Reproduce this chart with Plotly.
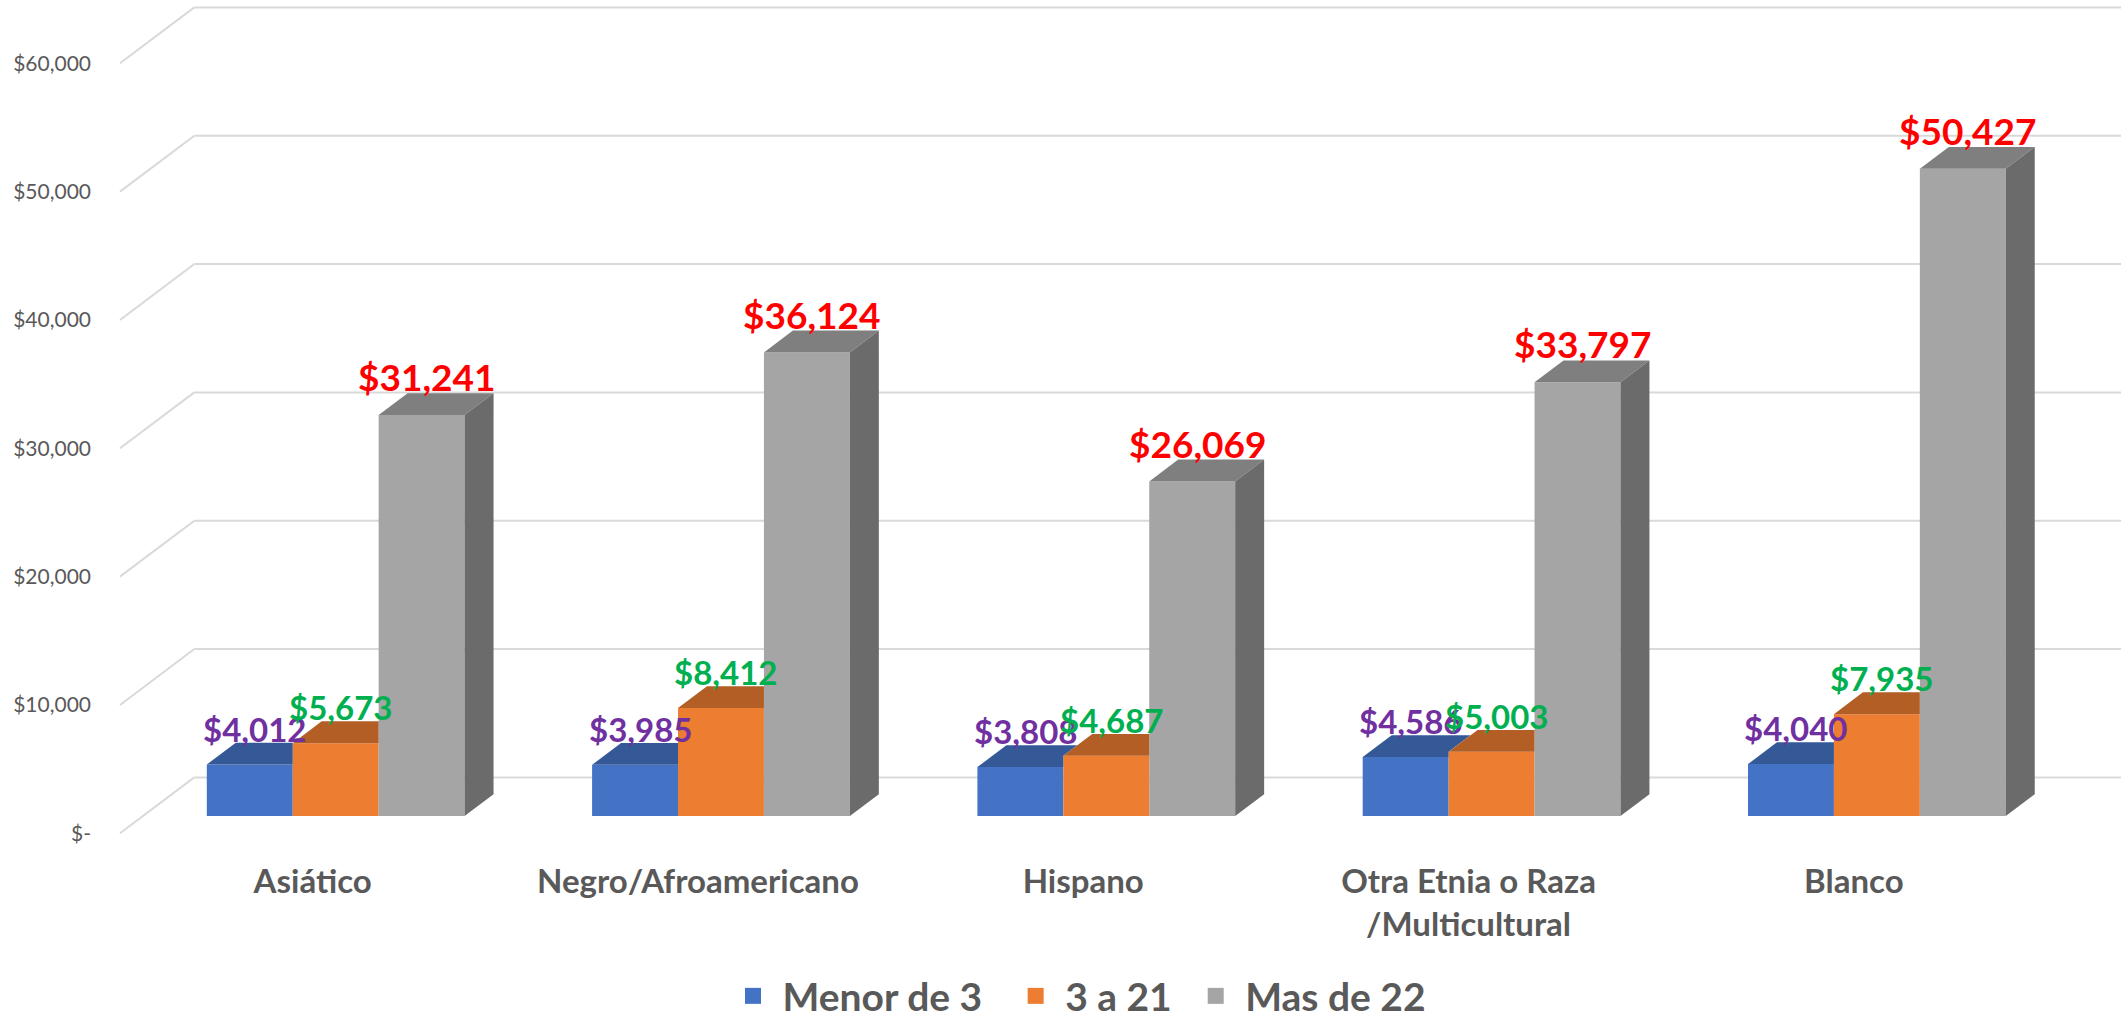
import plotly.graph_objects as go

# ---------------- data ----------------
categories = ["Asiático", "Negro/Afroamericano", "Hispano",
              "Otra Etnia o Raza /Multicultural", "Blanco"]
series_names = ["Menor de 3", "3 a 21", "Mas de 22"]
menor_de_3 = [4012, 3985, 3808, 4586, 4040]
de_3_a_21 = [5673, 8412, 4687, 5003, 7935]
mas_de_22 = [31241, 36124, 26069, 33797, 50427]
tick_values = [0, 10000, 20000, 30000, 40000, 50000, 60000]
tick_labels = ["$-", "$10,000", "$20,000", "$30,000", "$40,000", "$50,000", "$60,000"]

series_values = [menor_de_3, de_3_a_21, mas_de_22]

# ---------------- styling / geometry ----------------
FRONT_COL = ["#4472C4", "#ED7D31", "#A5A5A5"]
TOP_COL = ["#345996", "#B25E25", "#7F7F7F"]
SIDE_COL = "#6B6B6B"
LABEL_COL = ["#7030A0", "#00B050", "#FF0000"]
LABEL_SIZE = [33, 33, 37]
LEGEND_PAD = [3, 2, 0]      # trailing no-break spaces after each legend text
GRID_COL = "#D9D9D9"
TEXT_COL = "#595959"
FONT = "Lato"

W, H = 2121, 1020
ML, MB = 100, 170
PX_PER_CAT = 385.3          # pixels per category band
PX_PER_USD = 770 / 60000.0  # pixels per dollar (vertical)
ORIGIN_X = 120.0            # px of category band start (front plane)
ORIGIN_Y = 833.3            # px of value 0 on front plane

WALL_DX = 74.3 / PX_PER_CAT        # full floor depth, category units
WALL_DY = 55.9 / PX_PER_USD        # full floor depth, dollar units
FRONT_F = 0.31                     # bar front face depth fraction
DEPTH_F = 0.39                     # bar depth fraction
GROUP_W = 0.669
BAR_W = GROUP_W / 3

sx = FRONT_F * WALL_DX
sy = FRONT_F * WALL_DY
ddx = DEPTH_F * WALL_DX
ddy = DEPTH_F * WALL_DY

plot_h = H - MB
x_range = [(ML - ORIGIN_X) / PX_PER_CAT, (W - ORIGIN_X) / PX_PER_CAT]
y_range = [-(plot_h - ORIGIN_Y) / PX_PER_USD, ORIGIN_Y / PX_PER_USD]

fig = go.Figure()

# gridlines (left wall diagonal + back wall horizontal), drawn below traces
for v in tick_values:
    fig.add_shape(type="line", xref="x", yref="y", layer="below",
                  x0=0, y0=v, x1=WALL_DX, y1=v + WALL_DY,
                  line=dict(color=GRID_COL, width=2))
    fig.add_shape(type="line", xref="x", yref="y", layer="below",
                  x0=WALL_DX, y0=v + WALL_DY, x1=x_range[1] + 1, y1=v + WALL_DY,
                  line=dict(color=GRID_COL, width=2))

n = len(categories)
centers = [i + 0.5 for i in range(n)]

# front faces: real bar traces
for k, (name, vals) in enumerate(zip(series_names, series_values)):
    fig.add_trace(go.Bar(
        x=[c + sx for c in centers], y=vals, base=[sy] * n,
        width=BAR_W, offset=-GROUP_W / 2 + k * BAR_W,
        marker=dict(color=FRONT_COL[k], line=dict(width=0)),
        name=name, showlegend=False,
        hovertemplate="%{y:$,.0f}<extra>" + name + "</extra>",
    ))

# top / side faces (3D effect) computed from the data
for i in range(n):
    c = centers[i] + sx
    for k in range(3):
        v = series_values[k][i]
        xl = c - GROUP_W / 2 + k * BAR_W
        xr = xl + BAR_W
        yt = sy + v
        if k < 2:
            vn = sy + series_values[k + 1][i]  # next (right) bar front-top
            if vn >= yt + ddy:
                px = [xl, xr, xr, xl + ddx, xl]
                py = [yt, yt, yt + ddy, yt + ddy, yt]
            else:
                xc = xr + ddx * (yt + ddy - vn) / ddy
                px = [xl, xr, xr, xc, xl + ddx, xl]
                py = [yt, yt, vn, yt + ddy, yt + ddy, yt]
        else:
            px = [xl, xr, xr + ddx, xl + ddx, xl]
            py = [yt, yt, yt + ddy, yt + ddy, yt]
        fig.add_trace(go.Scatter(x=px, y=py, mode="lines", fill="toself",
                                 fillcolor=TOP_COL[k], line=dict(width=0),
                                 hoverinfo="skip", showlegend=False))
        if k == 2:
            fig.add_trace(go.Scatter(
                x=[xr, xr, xr + ddx, xr + ddx, xr],
                y=[sy, yt, yt + ddy, sy + ddy, sy],
                mode="lines", fill="toself", fillcolor=SIDE_COL,
                line=dict(width=0), hoverinfo="skip", showlegend=False))

# legend entries (no-break spaces adjust the spacing around the text)
for k, name in enumerate(series_names):
    fig.add_trace(go.Scatter(x=[None], y=[None], mode="markers",
                             name="\u00a0" + name + "\u00a0" * LEGEND_PAD[k],
                             marker=dict(symbol="square", size=23, color=FRONT_COL[k])))

# data labels
for k in range(3):
    for i in range(n):
        v = series_values[k][i]
        c = centers[i] + sx - GROUP_W / 2 + (k + 0.5) * BAR_W
        fig.add_annotation(x=c + 0.013, y=sy + v + ddy, xref="x", yref="y",
                           text=f"${v:,}", showarrow=False, yanchor="bottom",
                           yshift=-8,
                           font=dict(family=FONT, size=LABEL_SIZE[k],
                                     color=LABEL_COL[k], weight="bold"))

fig.update_layout(
    width=W, height=H,
    margin=dict(l=ML, r=0, t=0, b=MB, pad=0, autoexpand=False),
    paper_bgcolor="white", plot_bgcolor="white",
    barmode="group",
    showlegend=True,
    legend=dict(orientation="h", x=(1082 - ML) / (W - ML), xanchor="center",
                y=(plot_h - 996) / plot_h, yanchor="middle",
                font=dict(family=FONT, size=39, color=TEXT_COL, weight="bold"),
                bgcolor="rgba(0,0,0,0)"),
    xaxis=dict(type="linear", range=x_range, tickvals=centers,
               ticktext=[c.replace(" /", "<br>/") for c in categories],
               showgrid=False, zeroline=False, showline=False, ticks="",
               automargin=False, ticklabelstandoff=9,
               tickfont=dict(family=FONT, size=33, color=TEXT_COL, weight="bold"),
               fixedrange=True),
    yaxis=dict(range=y_range, tickvals=tick_values, ticktext=tick_labels,
               showgrid=False, zeroline=False, showline=False, ticks="",
               automargin=False, ticklabelstandoff=8,
               tickfont=dict(family=FONT, size=21, color=TEXT_COL),
               fixedrange=True),
)

fig.write_html(
    "out.html",
    config={"displayModeBar": False},
    post_script="document.body.style.margin='0';document.body.style.overflow='hidden';",
)
